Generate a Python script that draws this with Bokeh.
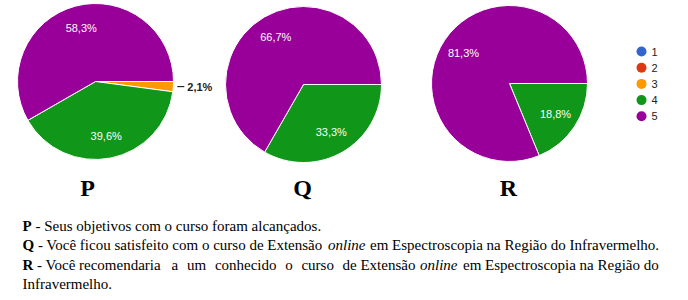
import math
from bokeh.plotting import figure
from bokeh.models import Range1d
from bokeh.core.properties import value
from bokeh.embed import file_html
from bokeh.resources import INLINE

# ---------------- data ----------------
categories = ["1", "2", "3", "4", "5"]
colors = ["#3366cc", "#dc3912", "#ff9900", "#109618", "#990099"]
pie_titles = ["P", "Q", "R"]
values_P = [0, 0, 2.1, 39.6, 58.3]
values_Q = [0, 0, 0, 33.3, 66.7]
values_R = [0, 0, 0, 18.8, 81.3]
all_values = [values_P, values_Q, values_R]

caption_lines = [
    [("P", "bold"), ("- Seus objetivos com o curso foram alcançados.", "normal")],
    [("Q", "bold"), ("- Você ficou satisfeito com o curso de Extensão", "normal"),
     ("online", "italic"), ("em Espectroscopia na Região do Infravermelho.", "normal")],
    [("R", "bold"), ("- Você recomendaria", "normal"), ("a", "normal"), ("um", "normal"),
     ("conhecido", "normal"), ("o", "normal"), ("curso", "normal"), ("de Extensão", "normal"),
     ("online", "italic"), ("em Espectroscopia na Região do", "normal")],
    [("Infravermelho.", "normal")],
]

# ---------------- layout (pixel coords, y from top) ----------------
W, H = 688, 300
centers = [(95, 81), (303, 84), (509, 83)]
R = 78
title_x = [87, 302, 508]
title_base = 187
legend_x = 641
legend_y0 = 51
legend_dy = 16.2
caption_x = [
    [22, 34.9],
    [22, 37.4, 327.5, 369.5],
    [22, 36.6, 171, 186.5, 214.4, 284.7, 300.9, 342, 419.5, 462.5],
    [22],
]
caption_base = [225, 244.5, 264, 283.5]
caption_size = "15px"


def Y(y):
    return H - y


p = figure(width=W, height=H, x_range=Range1d(0, W), y_range=Range1d(0, H),
           output_backend="svg", toolbar_location=None, min_border=0,
           x_axis_location=None, y_axis_location=None)
p.grid.visible = False
p.outline_line_color = None
p.background_fill_color = "white"
p.border_fill_color = "white"

sans = value("Liberation Sans")
serif = value("Liberation Serif")

for (cx, cy), vals, title, tx in zip(centers, all_values, pie_titles, title_x):
    total = sum(vals)
    cum = 0.0
    for v, col in zip(vals, colors):
        if v <= 0:
            continue
        a0 = cum / total * 2 * math.pi
        cum += v
        a1 = cum / total * 2 * math.pi
        p.wedge(x=cx, y=Y(cy), radius=R, start_angle=-a1, end_angle=-a0,
                direction="anticlock", fill_color=col, line_color="white", line_width=1)
        mid = -(a0 + a1) / 2
        lab = f"{v:.1f}".replace(".", ",") + "%"
        if v / total >= 0.05:
            lx = cx + 0.71 * R * math.cos(mid)
            ly = Y(cy) + 0.71 * R * math.sin(mid)
            p.text(x=[lx], y=[ly], text=[lab], text_font=sans, text_font_size="11px",
                   text_color="white", text_align="center", text_baseline="middle")
        else:
            ex = cx + R * math.cos(mid)
            ey = Y(cy) + R * math.sin(mid)
            p.segment(x0=[ex + 4], y0=[ey], x1=[ex + 11], y1=[ey], line_color="black", line_width=1)
            p.text(x=[ex + 14], y=[ey], text=[lab], text_font=sans, text_font_size="11px",
                   text_font_style="bold", text_color="#222222", text_align="left",
                   text_baseline="middle")
    p.text(x=[tx], y=[Y(title_base)], text=[title], text_font=serif, text_font_size="24px",
           text_font_style="bold", text_color="black", text_align="center",
           text_baseline="alphabetic")

# legend
for i, (cat, col) in enumerate(zip(categories, colors)):
    ly = Y(legend_y0 + i * legend_dy)
    p.scatter(x=[legend_x], y=[ly], marker="circle", size=10, fill_color=col, line_color=None)
    p.text(x=[legend_x + 10], y=[ly], text=[cat], text_font=sans, text_font_size="11px",
           text_color="#222222", text_align="left", text_baseline="middle")

# caption
for segs, xs, base in zip(caption_lines, caption_x, caption_base):
    for (txt, style), x in zip(segs, xs):
        p.text(x=[x], y=[Y(base)], text=[txt], text_font=serif, text_font_size=caption_size,
               text_font_style=style, text_color="black", text_align="left",
               text_baseline="alphabetic")

open("out.html", "w").write(file_html(p, INLINE))
